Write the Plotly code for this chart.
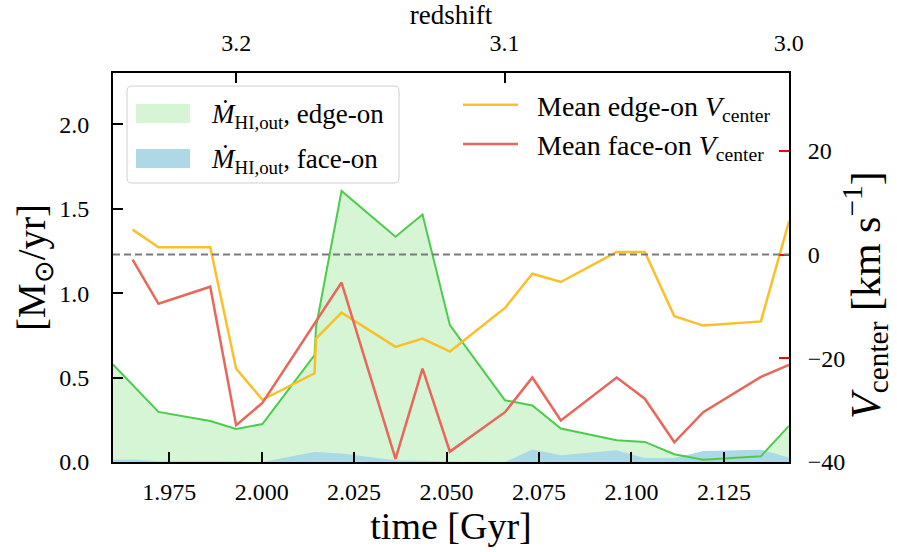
import plotly.graph_objects as go

# ---------------- data ----------------
time_mdot = [1.9598, 1.9651, 1.9721, 1.9861, 1.9931, 2.0002, 2.0143, 2.0147,
             2.0216, 2.0362, 2.0435, 2.0509, 2.0658, 2.0732, 2.0809, 2.0960,
             2.1036, 2.1116, 2.1194, 2.1350, 2.1426]
mdot_edge = [0.578, 0.457, 0.297, 0.243, 0.196, 0.225, 0.633, 0.800,
             1.606, 1.335, 1.467, 0.811, 0.366, 0.335, 0.198, 0.129,
             0.119, 0.046, 0.014, 0.034, 0.214]
mdot_face = [0.014, 0.015, 0.005, 0.004, 0.003, 0.000, 0.059, 0.059,
             0.050, 0.010, 0.008, 0.003, 0.000, 0.074, 0.040, 0.070,
             0.024, 0.024, 0.065, 0.073, 0.026]

time_v = [1.9651, 1.9721, 1.9861, 1.9931, 2.0002, 2.0143, 2.0147, 2.0216,
          2.0362, 2.0435, 2.0509, 2.0658, 2.0732, 2.0809, 2.0960, 2.1036,
          2.1116, 2.1194, 2.1350, 2.1426]
v_edge = [4.8, 1.4, 1.4, -22.0, -28.0, -22.9, -16.2, -11.2,
          -17.8, -16.2, -18.7, -10.3, -3.7, -5.3, 0.5, 0.5,
          -11.9, -13.7, -12.9, 6.4]
v_face = [-1.0, -9.5, -6.2, -32.9, -28.6, -13.3, -13.0, -5.4,
          -39.4, -22.0, -38.0, -30.4, -23.7, -32.0, -23.7, -27.8,
          -36.2, -30.4, -23.6, -21.3]

x_ticks = [1.975, 2.000, 2.025, 2.050, 2.075, 2.100, 2.125]
mdot_ticks = [0.0, 0.5, 1.0, 1.5, 2.0]
v_ticks = [-40, -20, 0, 20]
redshift_labels = ["3.2", "3.1", "3.0"]
redshift_tick_times = [1.9931, 2.0657, 2.1425]

legend_fill_labels = ["<i>Ṁ</i><sub>HI,out</sub>, edge-on",
                      "<i>Ṁ</i><sub>HI,out</sub>, face-on"]
legend_line_labels = ["Mean edge-on <i>V</i><sub>center</sub>",
                      "Mean face-on <i>V</i><sub>center</sub>"]
right_title = "<i>V</i><sub>center</sub> [km s<sup>−1</sup>]"

# ---------------- styling ----------------
FONT = "Liberation Serif"
C_GREEN_FILL = "#d5f5d5"
C_GREEN_LINE = "#4ccc4c"
C_BLUE_FILL = "#add8e6"
C_YELLOW = "#fbbf28"
C_RED = "#e8675a"

X_RANGE = [1.9598, 2.1426]
Y_RANGE = [0, 2.305]
V_RANGE = [-40, 35]

fig = go.Figure()

fig.add_trace(go.Scatter(x=time_mdot, y=mdot_edge, mode="none", fill="tozeroy",
                         fillcolor=C_GREEN_FILL, showlegend=False, hoverinfo="skip"))
fig.add_trace(go.Scatter(x=time_mdot, y=mdot_face, mode="none", fill="tozeroy",
                         fillcolor=C_BLUE_FILL, showlegend=False, hoverinfo="skip"))
fig.add_trace(go.Scatter(x=time_mdot, y=mdot_edge, mode="lines",
                         line=dict(color=C_GREEN_LINE, width=2), showlegend=False))
# invisible trace to instantiate the top (redshift) axis
fig.add_trace(go.Scatter(x=time_mdot, y=mdot_edge, mode="none", xaxis="x2", yaxis="y",
                         showlegend=False, hoverinfo="skip"))

GAP = "\u2002"
fig.add_trace(go.Scatter(x=time_v, y=v_edge, mode="lines", yaxis="y2",
                         line=dict(color=C_YELLOW, width=2.5),
                         name=GAP + legend_line_labels[0]))
fig.add_trace(go.Scatter(x=time_v, y=v_face, mode="lines", yaxis="y2",
                         line=dict(color=C_RED, width=2.5),
                         name=GAP + legend_line_labels[1]))

# plot area in pixels: x 113..789, y 73..462
L, R, T, B = 113, 789, 73, 462


def px(x):
    return (x - L) / (R - L)


def py(y):
    return (B - y) / (B - T)


shapes = []
# dashed zero line on velocity axis
shapes.append(dict(type="line", xref="paper", x0=0, x1=1, yref="y2", y0=0, y1=0,
                   line=dict(color="#7a7a7a", width=2, dash="7px,4px"), layer="above"))

# manual legend box for the fill patches (rounded rectangle)
bx0, bx1, by0, by1, r = 127, 399, 86, 183, 5
rx, ry = r / (R - L), r / (B - T)
X0, X1, Y0, Y1 = px(bx0), px(bx1), py(by1), py(by0)
path = (f"M {X0+rx},{Y0} L {X1-rx},{Y0} Q {X1},{Y0} {X1},{Y0+ry} "
        f"L {X1},{Y1-ry} Q {X1},{Y1} {X1-rx},{Y1} L {X0+rx},{Y1} "
        f"Q {X0},{Y1} {X0},{Y1-ry} L {X0},{Y0+ry} Q {X0},{Y0} {X0+rx},{Y0} Z")
shapes.append(dict(type="path", xref="paper", yref="paper", path=path,
                   line=dict(color="#cfcfcf", width=1), fillcolor="rgba(255,255,255,0.8)",
                   layer="above"))
patch_colors = [C_GREEN_FILL, C_BLUE_FILL]
row_y = [113.5, 158.5]
annotations = []
for lab, col, yc in zip(legend_fill_labels, patch_colors, row_y):
    shapes.append(dict(type="rect", xref="paper", yref="paper",
                       x0=px(136), x1=px(190), y0=py(yc + 9.5), y1=py(yc - 9.5),
                       fillcolor=col, line=dict(width=0), layer="above"))
    annotations.append(dict(xref="paper", yref="paper", x=px(209), y=py(yc + 2),
                            xanchor="left", yanchor="middle", showarrow=False,
                            text=lab, font=dict(family=FONT, size=27, color="black")))

# right-hand axis title (placed like the reference)
annotations.append(dict(xref="paper", yref="paper", x=px(895), y=py(295),
                        xanchor="right", yanchor="middle", showarrow=False,
                        textangle=-90, text=right_title, borderpad=0,
                        font=dict(family=FONT, size=42, color="black")))

axis_common = dict(showgrid=False, zeroline=False, showline=True, linecolor="black",
                   linewidth=2, ticks="inside", ticklen=10, tickwidth=1.5,
                   tickcolor="black", tickfont=dict(family=FONT, size=24, color="black"))

fig.update_layout(
    width=897, height=552,
    margin=dict(l=L, r=897 - R, t=T, b=552 - B, autoexpand=False),
    paper_bgcolor="white", plot_bgcolor="white",
    font=dict(family=FONT, color="black"),
    xaxis=dict(range=X_RANGE, tickvals=x_ticks, tickformat=".3f",
               title=dict(text="time [Gyr]", font=dict(family=FONT, size=38), standoff=0),
               ticklabelstandoff=7, **axis_common),
    xaxis2=dict(range=X_RANGE, overlaying="x", side="top", anchor="y",
                tickvals=redshift_tick_times, ticktext=redshift_labels,
                title=dict(text="redshift", font=dict(family=FONT, size=27), standoff=0),
                ticklabelstandoff=10, **axis_common),
    yaxis=dict(range=Y_RANGE, tickvals=mdot_ticks, tickformat=".1f",
               title=dict(text="[M<sub>⊙</sub>/yr]", font=dict(family=FONT, size=39), standoff=0),
               ticklabelstandoff=17, **axis_common),
    yaxis2=dict(range=V_RANGE, overlaying="y", side="right", anchor="x",
                tickvals=v_ticks, ticklabelstandoff=12,
                **{**axis_common, "tickcolor": "red"}),
    legend=dict(x=px(458), y=py(80), xanchor="left", yanchor="top",
                bgcolor="rgba(0,0,0,0)", borderwidth=0, itemwidth=55,
                font=dict(family=FONT, size=28, color="black"), tracegroupgap=0),
    shapes=shapes,
    annotations=annotations,
    showlegend=True,
)

fig.write_html("out.html", config={"displayModeBar": False},
               post_script="document.body.style.margin='0';document.body.style.overflow='hidden';")
